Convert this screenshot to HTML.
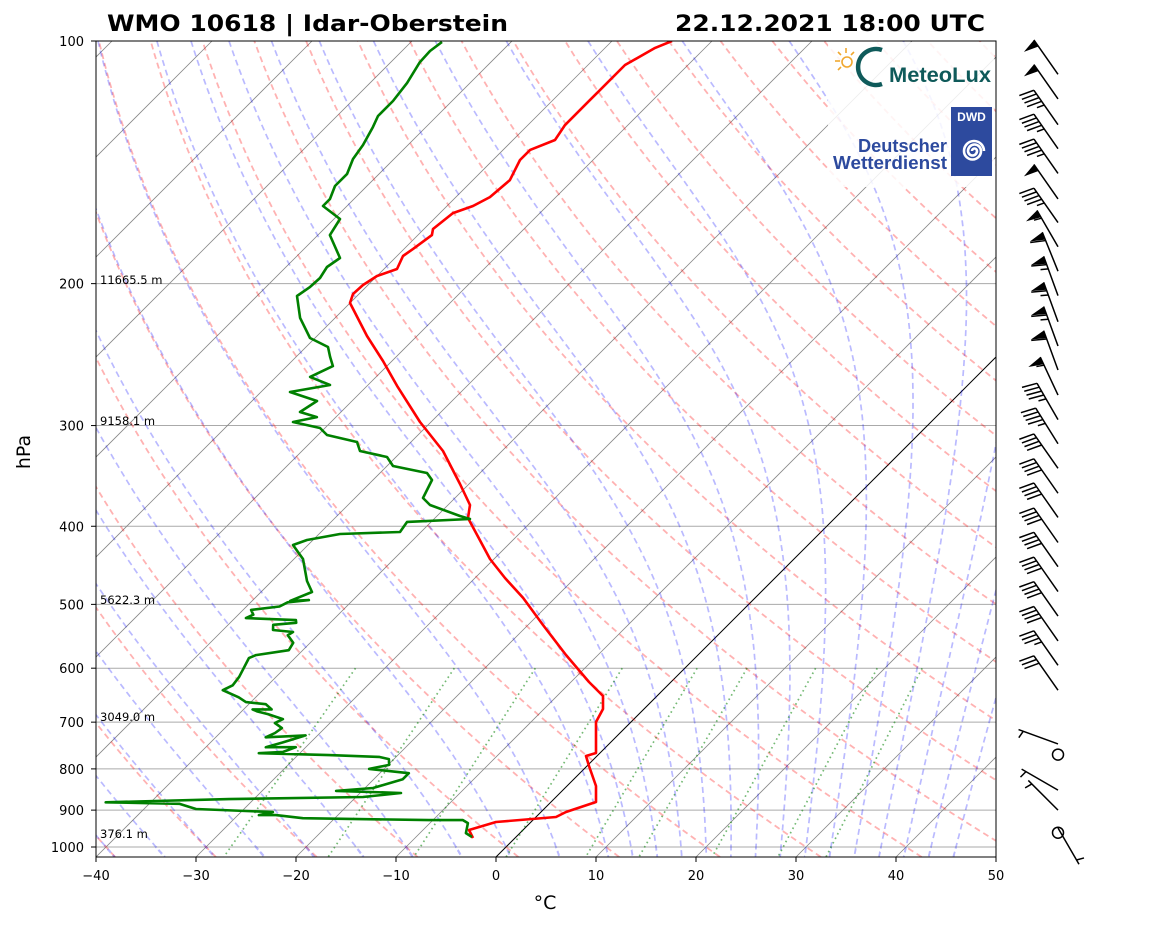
<!DOCTYPE html>
<html><head><meta charset="utf-8"><style>
html,body{margin:0;padding:0;background:#fff;}
svg{display:block;font-family:"DejaVu Sans","Liberation Sans",sans-serif;}
</style></head><body>
<svg id="c" width="1160" height="925" viewBox="0 0 1160 925" xmlns="http://www.w3.org/2000/svg">
<defs><clipPath id="pc"><rect x="96" y="41" width="900" height="816"/></clipPath></defs>
<rect width="1160" height="925" fill="#fff"/>
<g id="bg" clip-path="url(#pc)"></g>
<g id="logos">
<rect x="828" y="42" width="166" height="145" fill="#fff" opacity="0.85"/>
<g>
<g stroke="#f0a830" stroke-width="1.6">
<line x1="846" y1="48" x2="846" y2="53"/><line x1="835" y1="61" x2="840" y2="61"/><line x1="838" y1="52" x2="841" y2="55"/><line x1="854" y1="52" x2="851" y2="55"/><line x1="838" y1="70" x2="841" y2="67"/>
<circle cx="847" cy="62" r="5" fill="none"/></g>
<path d="M882,50 A18,18 0 1 0 882,84" fill="none" stroke="#0f5a5a" stroke-width="4.5"/>
<text x="889" y="82" font-size="21" font-weight="bold" fill="#0f5a5a" textLength="102" lengthAdjust="spacingAndGlyphs" font-family="Liberation Sans, sans-serif">MeteoLux</text>
</g>
<g>
<rect x="951" y="107" width="41" height="69" fill="#2d4a9e"/>
<text x="971.5" y="121" font-size="12" font-weight="bold" fill="#fff" text-anchor="middle" font-family="Liberation Sans, sans-serif">DWD</text>
<path d="M972,151 A2.5,2.5 0 0 1 977,151 A4.5,4.5 0 0 1 968,151 A6.5,6.5 0 0 1 981,151 A8.5,8.5 0 0 1 964,151 A10,10 0 0 1 984,151" fill="none" stroke="#fff" stroke-width="2.6"/>
<text x="858" y="152" font-size="18" font-weight="bold" fill="#2d4a9e" textLength="89" lengthAdjust="spacingAndGlyphs" font-family="Liberation Sans, sans-serif">Deutscher</text>
<text x="833" y="169" font-size="18" font-weight="bold" fill="#2d4a9e" textLength="114" lengthAdjust="spacingAndGlyphs" font-family="Liberation Sans, sans-serif">Wetterdienst</text>
</g>
</g>
<g id="prof" clip-path="url(#pc)"></g>
<rect x="96" y="41" width="900" height="816" fill="none" stroke="#000" stroke-width="1"/>
<g id="axes"></g>
<g id="barbs"></g>
<text x="107" y="31" font-size="22" font-weight="bold" textLength="401" lengthAdjust="spacingAndGlyphs">WMO 10618 | Idar-Oberstein</text>
<text x="675" y="31" font-size="22" font-weight="bold" textLength="310" lengthAdjust="spacingAndGlyphs">22.12.2021 18:00 UTC</text>
<text x="545" y="909" font-size="19" text-anchor="middle">°C</text>
<text transform="translate(30,452) rotate(-90)" font-size="19" text-anchor="middle">hPa</text>
</svg>
<script>
const redP=[974.6,952.6,931.1,917.9,904.9,879.4,840.1,793.4,771.1,764.5,734.5,699.7,674.2,649.6,624.1,577.8,530.3,490.9,463.7,439.2,390.7,376.4,354.5,322.6,297.0,267.9,249.5,232.3,211.4,206.0,200.8,195.7,191.8,184.8,181.2,174.1,171.1,163.5,160.2,156.2,148.8,140.5,136.5,132.7,127.1,123.5,118.4,115.0,107.1,102.0,100.0];
const redT=[-4.2,-5.4,-3.5,2.0,2.5,4.5,2.9,0.2,-1.1,-0.4,-1.8,-3.5,-4.1,-5.4,-8.2,-13.2,-18.5,-23.2,-27.0,-30.4,-36.7,-37.8,-40.9,-45.9,-51.1,-57.0,-60.9,-65.0,-70.0,-70.6,-70.5,-70.0,-68.7,-69.4,-69.1,-68.6,-69.1,-68.7,-67.4,-66.6,-66.3,-67.3,-67.3,-65.8,-66.3,-66.3,-66.3,-66.3,-66.3,-65.0,-64.0];
const dewP=[971.8,961,934,926,926,921,913,913,905,897,884,880,872,867,857,852,845,838,824,810,800,791,778,773,769,765,762,752,752,742,727,731,722,712,702,694,684,679,675,675,665,661,652,639,630,615,583,578,570,558,546,541,538,530,527,523,520,515,508,503,497,494,
495,482.6,467.7,439.2,422.0,416.0,408.9,406.6,395.1,391.8,388.5,376.4,369.0,350.5,343.5,336.7,328.2,322.6,314.4,308.2,302.1,297.0,292.8,288.6,279.7,272.6,267.2,261.1,253.1,246.6,239.7,233.6,220.6,207.2,201.9,196.8,190.7,185.9,174.1,166.3,160.2,157.1,151.3,146.2,140.1,134.6,127.9,123.9,118.7,112.7,106.2,102.9,100.3];
const dewT=[-4.4,-5.4,-6.2,-7.0,-10.4,-23.2,-26.2,-27.9,-26.8,-34.8,-37.0,-44.5,-32.5,-19.3,-15.9,-22.6,-19.2,-18.5,-17.1,-17.1,-21.5,-19.9,-20.5,-21.7,-26.9,-34.1,-31.8,-31.0,-34.0,-32.8,-31.2,-35.0,-34.5,-34.3,-35.5,-35.1,-37.1,-38.4,-39.1,-37.2,-38.3,-40.5,-41.7,-44.0,-43.5,-43.7,-44.6,-44.2,-41.4,-41.7,-43.0,-42.8,-45.0,-45.5,-43.4,-43.7,-48.9,-48.5,-49.2,-46.7,-46.3,-44.4,
-46.2,-44.9,-46.5,-49.1,-51.5,-50.6,-47.9,-42.1,-42.4,-36.4,-37.7,-41.8,-43.2,-44.1,-45.3,-49.4,-50.9,-54.2,-55.4,-59.1,-60.5,-63.8,-61.9,-64.1,-63.5,-67.1,-63.8,-66.6,-65.4,-66.6,-67.8,-70.5,-73.5,-76.0,-75.6,-75.5,-75.9,-75.5,-78.8,-79.4,-82.4,-82.4,-83.2,-83.2,-84.1,-84.5,-85.3,-85.9,-85.9,-86.3,-87.1,-87.2,-86.9];
const xTicks=[-40,-30,-20,-10,0,10,20,30,40,50];
const pTicks=[100,200,300,400,500,600,700,800,900,1000];
const heightLabels=["11665.5 m","9158.1 m","5622.3 m","3049.0 m","376.1 m"];
const heightY=[280,421,600,717,834];
const barbP=[110,118,127,136,146,157,168,180,193,207,223,239,256,275,295,316,339,364,390,419,449,482,517,555,595,639,745,768,850,900,947,960];
const barbDir=[325,325,325,325,325,325,325,330,338,340,340,340,340,335,330,328,325,325,325,325,325,325,325,325,325,325,290,0,300,315,150,0];
const barbSpd=[50,50,45,45,45,50,45,55,60,65,65,65,60,55,45,45,40,40,40,40,40,40,40,40,35,30,5,0,5,5,5,0];

const NS="http://www.w3.org/2000/svg";
const Pbot=1029, Ptop=100;
function Y(p){return 41+806*Math.log10(p/100);}
function X(T,p){return 96+(T+40)*10+(857-Y(p));}
function mk(tag,parent,attrs){const e=document.createElementNS(NS,tag);for(const k in attrs)e.setAttribute(k,attrs[k]);parent.appendChild(e);return e;}
function ptsStr(P,T){let s=[];for(let i=0;i<P.length;i++)s.push(X(T[i],P[i]).toFixed(1)+","+Y(P[i]).toFixed(1));return s.join(" ");}
const bg=document.getElementById('bg');
const prof=document.getElementById('prof');
const axes=document.getElementById('axes');
const barbs=document.getElementById('barbs');
const pgrid=[];for(let i=0;i<=60;i++)pgrid.push(Pbot*Math.pow(Ptop/Pbot,i/60));

for(const p of pTicks){
  const l=mk('line',bg,{x1:96,x2:996,y1:Y(p),y2:Y(p),stroke:'#aaa','stroke-width':1});
  
  
}
for(let t=-130;t<=50;t+=10){
  const l=mk('line',bg,{x1:X(t,Pbot),y1:Y(Pbot),x2:X(t,Ptop),y2:Y(Ptop),stroke:t===0?'#000':'#888','stroke-width':t===0?1:0.8});
  
  
}
for(let t0=-50;t0<=200;t0+=10){
  const T=pgrid.map(p=>(t0+273.15)*Math.pow(p/1000,0.2857)-273.15);
  const l=mk('polyline',bg,{points:ptsStr(pgrid,T),fill:'none',stroke:'#f00','stroke-opacity':0.3,'stroke-width':1.8,'stroke-dasharray':'6,4'});
  
  
}
function es(Tc){return 6.112*Math.exp(17.67*Tc/(Tc+243.5));}
function dTdp(T,p){const Rd=287.04,Cp=1005.7,Lv=2.501e6,eps=0.622;const e=es(T-273.15);const rs=eps*e/(p-e);
  return (Rd*T+Lv*rs)/(Cp+Lv*Lv*rs*eps/(Rd*T*T))/p;}
function moist(t0){
  const out={};
  for(const dir of [-1,1]){
    let T=t0+273.15,p=1000;const target=dir<0?Ptop:Pbot;const n=200;const dp=(target-p)/n;
    const arrP=[p],arrT=[T];
    for(let i=0;i<n;i++){const k1=dTdp(T,p),k2=dTdp(T+k1*dp/2,p+dp/2),k3=dTdp(T+k2*dp/2,p+dp/2),k4=dTdp(T+k3*dp,p+dp);
      T+=dp*(k1+2*k2+2*k3+k4)/6;p+=dp;arrP.push(p);arrT.push(T);}
    out[dir]={P:arrP,T:arrT.map(v=>v-273.15)};
  }
  const P=out[-1].P.slice().reverse().concat(out[1].P.slice(1));
  const T=out[-1].T.slice().reverse().concat(out[1].T.slice(1));
  return {P,T};
}
const moistT0=[];for(let t=-50;t<=10;t+=5)moistT0.push(t);for(let t=12.5;t<=45;t+=2.5)moistT0.push(t);
for(const t0 of moistT0){
  const m=moist(t0);
  const l=mk('polyline',bg,{points:ptsStr(m.P,m.T),fill:'none',stroke:'#00f','stroke-opacity':0.27,'stroke-width':1.7,'stroke-dasharray':'6,4'});
  
  
}
const mixW=[0.0004,0.001,0.002,0.004,0.007,0.01,0.016,0.024,0.032];
for(const w of mixW){
  const P=[600,Pbot];
  const T=P.map(p=>{const e=p*w/(0.622+w);const a=Math.log(e/6.112);return 243.5*a/(17.67-a);});
  const l=mk('polyline',bg,{points:ptsStr(P,T),fill:'none',stroke:'#008000','stroke-opacity':0.55,'stroke-width':1.7,'stroke-dasharray':'1.6,3.4'});
  
  
}
for(let i=0;i<heightLabels.length;i++){
  const t=mk('text',bg,{x:100,y:heightY[i]+4,'font-size':11.5});
  t.textContent=heightLabels[i];
  
  
}
const tl=mk('polyline',prof,{points:ptsStr(redP,redT),fill:'none',stroke:'#f00','stroke-width':2.6,'stroke-linejoin':'round'});


const dl=mk('polyline',prof,{points:ptsStr(dewP,dewT),fill:'none',stroke:'#008000','stroke-width':2.6,'stroke-linejoin':'round'});


for(const t of xTicks){
  const x=96+(t+40)*10;
  const l=mk('line',axes,{x1:x,x2:x,y1:857,y2:862,stroke:'#000'});
  
  
  const tx=mk('text',axes,{x:x,y:880,'font-size':13,'text-anchor':'middle'});
  tx.textContent=(t<0?'\u2212'+(-t):''+t);
  
  
}
for(const p of pTicks){
  const y=Y(p);
  const l=mk('line',axes,{x1:91,x2:96,y1:y,y2:y,stroke:'#000'});
  
  
  const tx=mk('text',axes,{x:84,y:y+5,'font-size':13,'text-anchor':'end'});
  tx.textContent=''+p;
  
  
}
const BX=1058,L=42;
for(let i=0;i<barbP.length;i++){
  const by=Y(barbP[i]);const spd=barbSpd[i];
  const g=mk('g',barbs,{});
  
  
  if(spd<2.5){mk('circle',g,{cx:BX,cy:by,r:5.5,fill:'none',stroke:'#000','stroke-width':1.5});continue;}
  const d=barbDir[i]*Math.PI/180;const ux=Math.sin(d),uy=-Math.cos(d);const nx=uy,ny=-ux;
  const tx=BX+ux*L,ty=by+uy*L;
  mk('line',g,{x1:BX,y1:by,x2:tx,y2:ty,stroke:'#000','stroke-width':1.5});
  let s=Math.round(spd/5)*5;let flags=Math.floor(s/50);s-=flags*50;let full=Math.floor(s/10);s-=full*10;let half=s>=5?1:0;
  let pos=0;
  for(let f=0;f<flags;f++){
    const ax=tx-ux*pos,ay=ty-uy*pos,bx=tx-ux*(pos+8),by2=ty-uy*(pos+8);
    mk('polygon',g,{points:`${ax},${ay} ${bx},${by2} ${ax-ux*4+nx*15},${ay-uy*4+ny*15}`,fill:'#000'});
    pos+=9;
  }
  if(flags===0 && full===0) pos+=5;
  for(let f=0;f<full;f++){
    const ax=tx-ux*pos,ay=ty-uy*pos;
    mk('line',g,{x1:ax,y1:ay,x2:ax+nx*15+ux*4,y2:ay+ny*15+uy*4,stroke:'#000','stroke-width':1.5});
    pos+=4.5;
  }
  if(half){const ax=tx-ux*pos,ay=ty-uy*pos;
    mk('line',g,{x1:ax,y1:ay,x2:ax+nx*7.5+ux*2,y2:ay+ny*7.5+uy*2,stroke:'#000','stroke-width':1.5});}
}
</script>
</body></html>
